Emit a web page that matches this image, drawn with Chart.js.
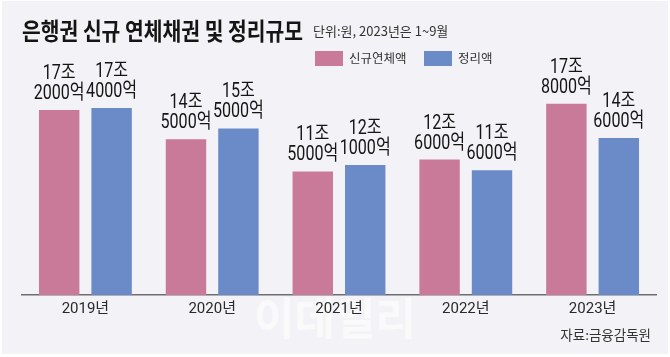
<!DOCTYPE html>
<html>
<head>
<meta charset="utf-8">
<script src="https://cdn.jsdelivr.net/npm/chart.js@4/dist/chart.umd.min.js"></script>
<style>
  html,body{margin:0;padding:0;background:#ffffff;}
  #wrap{width:670px;height:357px;position:relative;}
  canvas{display:block;}
</style>
</head>
<body>
<div id="wrap"><canvas id="c" width="670" height="357"></canvas></div>
<script>
// ---- data (values in 억원) ----
const years = ['2019년', '2020년', '2021년', '2022년', '2023년'];
const newDelinquent = [172000, 145000, 115000, 126000, 178000]; // 신규연체액
const writeOff = [174000, 155000, 121000, 116000, 146000];      // 정리액
const seriesNames = ['신규연체액', '정리액'];
const titleText = '은행권 신규 연체채권 및 정리규모';
const subtitleText = '단위:원, 2023년은 1~9월';
const sourceText = '자료:금융감독원';
const watermarkText = '이데일리';

const PINK = '#c97a98';
const BLUE = '#6b8bc8';
const BG = '#f3f2f6';
const CJK = '"Noto Sans CJK KR", sans-serif';
const LAB = 'Roboto, "Noto Sans CJK KR", sans-serif';

function fmt(v) {
  const jo = Math.floor(v / 10000);
  const eok = v % 10000;
  return [jo + '조', eok + '억'];
}

function narrowText(ctx, text, x, y, sx) {
  ctx.save();
  ctx.translate(x, y);
  ctx.scale(sx, 1);
  ctx.fillText(text, 0, 0);
  ctx.restore();
}

const decor = {
  id: 'decor',
  beforeDraw(chart) {
    const ctx = chart.ctx;
    ctx.save();
    ctx.fillStyle = '#ffffff';
    ctx.fillRect(0, 0, chart.width, chart.height);
    ctx.fillStyle = BG;
    ctx.fillRect(2, 1, chart.width - 4, chart.height - 4);
    // watermark
    ctx.fillStyle = 'rgba(255,255,255,0.6)';
    ctx.font = 'bold 44px ' + CJK;
    ctx.textAlign = 'center';
    ctx.textBaseline = 'middle';
    ctx.fillText(watermarkText, 335, 318);
    ctx.restore();
  },
  afterDraw(chart) {
    const ctx = chart.ctx;
    ctx.save();
    // title
    ctx.fillStyle = '#151515';
    ctx.font = 'bold 24px ' + CJK;
    ctx.textBaseline = 'middle';
    ctx.textAlign = 'left';
    const tw = ctx.measureText(titleText).width;
    narrowText(ctx, titleText, 22, 31, 281 / tw);
    // subtitle
    ctx.fillStyle = '#333333';
    ctx.font = '13px ' + CJK;
    const sw = ctx.measureText(subtitleText).width;
    narrowText(ctx, subtitleText, 313, 31, Math.min(1, 140 / sw));
    // legend
    const lx = [315, 424];
    chart.data.datasets.forEach((ds, i) => {
      ctx.fillStyle = ds.backgroundColor;
      ctx.fillRect(lx[i], 51, 28, 15);
      ctx.fillStyle = '#333333';
      ctx.font = '12.5px ' + CJK;
      ctx.textBaseline = 'middle';
      ctx.fillText(ds.label, lx[i] + 34, 58.5);
    });
    // value labels
    ctx.fillStyle = '#151515';
    ctx.font = '20px ' + LAB;
    ctx.textAlign = 'center';
    ctx.textBaseline = 'middle';
    const ref = ctx.measureText('2000억').width;
    const sx = 51 / ref;
    chart.data.datasets.forEach((ds, i) => {
      const meta = chart.getDatasetMeta(i);
      meta.data.forEach((bar, j) => {
        const lines = fmt(ds.data[j]);
        narrowText(ctx, lines[0], bar.x, bar.y - 36, sx);
        narrowText(ctx, lines[1], bar.x, bar.y - 16, sx);
      });
    });
    // source
    ctx.fillStyle = '#333333';
    ctx.font = '13.5px ' + CJK;
    ctx.textAlign = 'right';
    ctx.fillText(sourceText, 651, 335);
    ctx.restore();
  }
};

new Chart(document.getElementById('c'), {
  type: 'bar',
  data: {
    labels: years,
    datasets: [
      { label: seriesNames[0], data: newDelinquent, backgroundColor: PINK },
      { label: seriesNames[1], data: writeOff, backgroundColor: BLUE }
    ]
  },
  options: {
    responsive: false,
    animation: false,
    events: [],
    layout: { padding: { left: 22, right: 14, top: 80, bottom: 0 } },
    categoryPercentage: 0.827,
    barPercentage: 0.771,
    plugins: { legend: { display: false }, title: { display: false }, tooltip: { enabled: false } },
    scales: {
      y: { display: false, min: 0, max: 200000 },
      x: {
        grid: { display: false, drawTicks: false },
        border: { display: true, color: '#6e6e6e', width: 1.5 },
        ticks: { color: '#2a2a2a', font: { family: LAB, size: 15 }, padding: 5 },
        afterFit(scale) { scale.height = 62; }
      }
    }
  },
  plugins: [decor]
});
</script>
</body>
</html>
